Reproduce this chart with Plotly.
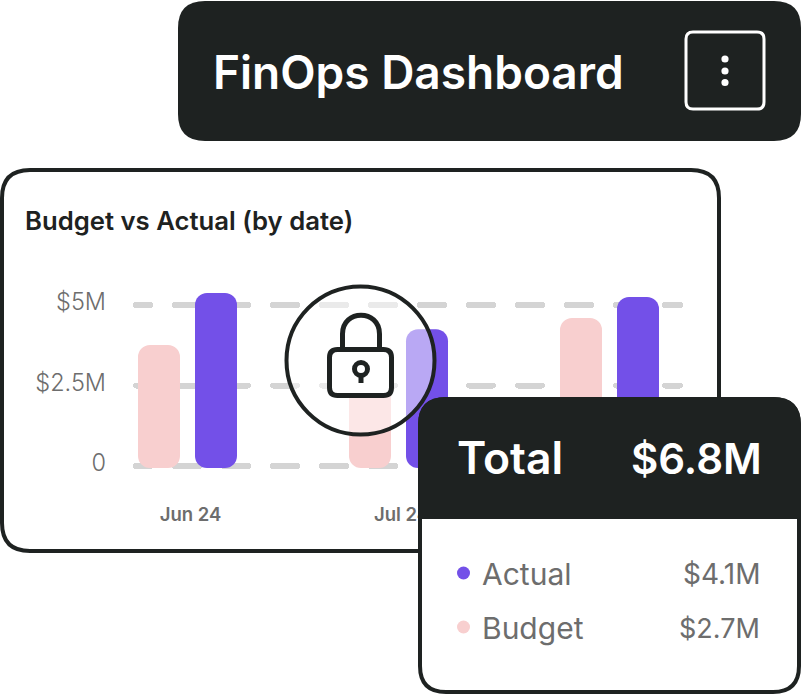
import plotly.graph_objects as go

W, H = 801, 699
DARK = "#1e2221"
PURPLE = "#7350e8"
PINK = "#f8cfcf"
GREY = "#6d6d6d"

# ---- data ----
months = ["Jun 24", "Jul 24", "Aug 24"]
budget = [3.76, 2.7, 4.6]
actual = [5.37, 4.25, 5.25]
y_ticks = [0, 2.5, 5]
y_labels = ["0", "$2.5M", "$5M"]
total_label = "$6.8M"
legend_names = ["Actual", "Budget"]
legend_values = ["$4.1M", "$2.7M"]

# ---- helpers ----
def px(x): return x / W
def py(y): return 1 - y / H

def rrect(x0, y0, x1, y1, r, fill, line=None, lw=0, layer="above", radii=None):
    tl, tr, br, bl = radii if radii else (r, r, r, r)
    p = (f"M {px(x0+tl)},{py(y0)} L {px(x1-tr)},{py(y0)} "
         f"Q {px(x1)},{py(y0)} {px(x1)},{py(y0+tr)} "
         f"L {px(x1)},{py(y1-br)} Q {px(x1)},{py(y1)} {px(x1-br)},{py(y1)} "
         f"L {px(x0+bl)},{py(y1)} Q {px(x0)},{py(y1)} {px(x0)},{py(y1-bl)} "
         f"L {px(x0)},{py(y0+tl)} Q {px(x0)},{py(y0)} {px(x0+tl)},{py(y0)} Z")
    return dict(type="path", xref="paper", yref="paper", path=p, fillcolor=fill,
                line=dict(color=line or "rgba(0,0,0,0)", width=lw), layer=layer)

def circle(cx, cy, r, fill, line=None, lw=0):
    return dict(type="circle", xref="paper", yref="paper",
                x0=px(cx-r), x1=px(cx+r), y0=py(cy+r), y1=py(cy-r), fillcolor=fill,
                line=dict(color=line or "rgba(0,0,0,0)", width=lw), layer="above")

def text(x, y, s, size, anchor="left", color=DARK, weight=400, family="Inter"):
    return dict(xref="paper", yref="paper", x=px(x), y=py(y), text=s, showarrow=False,
                xanchor=anchor, yanchor="middle", borderpad=0,
                font=dict(family=family, size=size, color=color, weight=weight))

# ---- bars ----
PX_PER_M = 32.2
WIDTH = 42 / 211
OFF_B = -52.5 / 211
OFF_A = 4.5 / 211
BASE = -0.06

fig = go.Figure()
for vals, col, off in ((budget, PINK, OFF_B), (actual, PURPLE, OFF_A)):
    fig.add_trace(go.Bar(x=months, y=[v - BASE for v in vals], base=BASE, width=WIDTH,
                         offset=off, marker=dict(color=col, line=dict(width=0))))

dash = "14px," + ",".join(["25px,24px"] * 14) + ",25px"

shapes = [
    rrect(2, 170, 719, 551, 28, "#ffffff", DARK, 4, layer="below"),
    # header
    rrect(178, 1, 801, 141, 27, DARK),
    rrect(686, 32, 764, 109, 7, "rgba(0,0,0,0)", "#ffffff", 3),
    circle(725, 59, 3.6, "#ffffff"), circle(725, 71, 3.6, "#ffffff"), circle(725, 82.5, 3.6, "#ffffff"),
    # lock overlay
    circle(360.5, 360.5, 74, "rgba(255,255,255,0.5)", DARK, 4),
    dict(type="path", xref="paper", yref="paper", layer="above",
         path=(f"M {px(342.5)},{py(349)} L {px(342.5)},{py(334)} "
               f"C {px(342.5)},{py(309)} {px(379.5)},{py(309)} {px(379.5)},{py(334)} L {px(379.5)},{py(349)}"),
         line=dict(color=DARK, width=5), fillcolor="rgba(0,0,0,0)"),
    rrect(329.5, 349.5, 391.5, 395.5, 8, "#ffffff", DARK, 5),
    circle(361, 369, 6.5, "#ffffff", DARK, 5),
    dict(type="line", xref="paper", yref="paper", x0=px(361), x1=px(361), y0=py(376), y1=py(383),
         line=dict(color=DARK, width=5), layer="above"),
    # total panel
    rrect(420, 399, 799, 692, 26, "#ffffff", DARK, 4),
    rrect(418, 397, 801, 519, 28, DARK, radii=(28, 28, 0, 0)),
    circle(463.5, 573, 6.5, PURPLE),
    circle(463.5, 627, 6.5, PINK),
]

annotations = [
    text(212, 72, "FinOps Dashboard", 46, color="#ffffff", weight=600),
    text(23.5, 220.5, "Budget vs Actual (by date)", 25.7, weight=600),
    text(456.5, 458, "Total", 44.5, color="#ffffff", weight=600),
    text(762.5, 458, total_label, 42, "right", "#ffffff", 600),
    text(481, 574, legend_names[0], 30, color=GREY),
    text(481, 628, legend_names[1], 30, color=GREY),
    text(761, 574, legend_values[0], 28, "right", GREY),
    text(761, 628, legend_values[1], 27, "right", GREY),
]

top_px, bot_px = 280, 480
fig.update_layout(
    width=W, height=H, margin=dict(l=0, r=0, t=0, b=0), autosize=False,
    paper_bgcolor="#ffffff", plot_bgcolor="rgba(0,0,0,0)",
    showlegend=False, barmode="overlay", barcornerradius=12, hovermode=False,
    shapes=shapes, annotations=annotations,
    xaxis=dict(domain=[136 / W, 680 / W], type="category", categoryorder="array",
               categoryarray=months, range=[-54.5 / 211, -54.5 / 211 + 544 / 211],
               showgrid=False, zeroline=False, showline=False, ticks="",
               ticklabelstandoff=21,
               tickfont=dict(family="Inter", size=18.5, color=GREY, weight=600)),
    yaxis=dict(domain=[1 - bot_px / H, 1 - top_px / H],
               range=[(466 - bot_px) / PX_PER_M, (466 - top_px) / PX_PER_M],
               tickmode="array", tickvals=y_ticks, ticktext=y_labels,
               showgrid=True, gridcolor="#d4d4d4", gridwidth=6, griddash=dash,
               zeroline=False, showline=False, ticks="",
               ticklabelstandoff=29, ticklabelshift=-3,
               tickfont=dict(family="Inter", size=23.5, color=GREY, weight=300)),
)

round_caps = ("document.body.style.margin='0';document.body.style.overflow='hidden';"
              "document.querySelectorAll('.gridlayer path').forEach(function(p){p.style.strokeLinecap='round';});")
fig.write_html("out.html", config=dict(displayModeBar=False), post_script=round_caps)
